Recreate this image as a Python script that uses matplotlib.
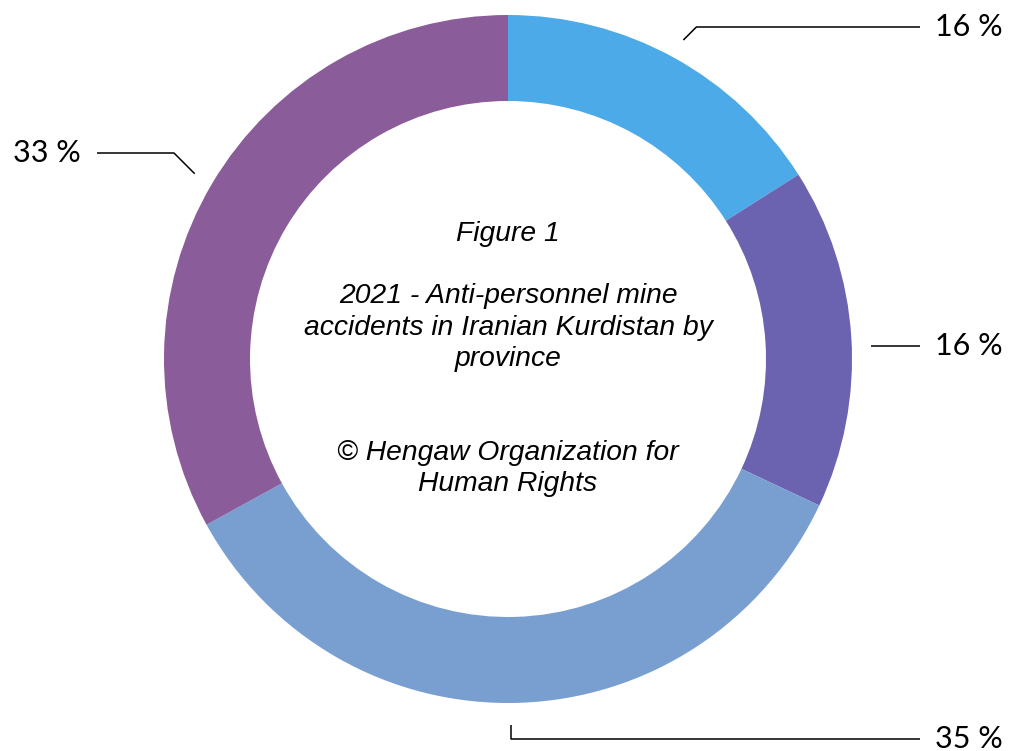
import numpy as np
import matplotlib
matplotlib.use("Agg")
from matplotlib import pyplot as plt

# share of mine accidents per province (clockwise from top)
shares = [16, 16, 35, 33]
labels = ["16 %", "16 %", "35 %", "33 %"]
colors = ["#4DAAE8", "#6B62B0", "#789FD0", "#8A5C99"]

center_text = ("Figure 1\n\n2021 - Anti-personnel mine\n"
               "accidents in Iranian Kurdistan by\nprovince\n\n\n"
               "© Hengaw Organization for\nHuman Rights")

W, H = 1011, 751
fig = plt.figure(figsize=(W / 100, H / 100), dpi=100)
ax = fig.add_axes([0, 0, 1, 1])

cx, cy, r = 508, H - 359, 344
wedges, _ = ax.pie(shares, colors=colors, startangle=90, counterclock=False,
                   radius=r, center=(cx, cy), frame=True,
                   wedgeprops=dict(width=r * 0.25, linewidth=0))
ax.set_xlim(0, W)
ax.set_ylim(0, H)
ax.set_aspect("equal")
ax.axis("off")

# label rows: y in pixels from top, leader style
label_rows = [(27, "diag"), (346, "flat"), (739, "drop"), (153, "left")]

for w, lab, (ly, kind) in zip(wedges, labels, label_rows):
    mid = np.deg2rad((w.theta1 + w.theta2) / 2)
    ax_x = cx + (r + 20) * np.cos(mid)
    ax_y = cy + (r + 20) * np.sin(mid)
    ly = H - ly
    if kind == "drop":
        xs = [ax_x - 8, ax_x - 8, 920]
        ys = [ax_y - 2, ly, ly]
    elif kind == "diag":
        d = abs(ax_y - ly)
        xs = [ax_x, ax_x + d, 920]
        ys = [ax_y, ly, ly]
    elif kind == "flat":
        xs = [ax_x, 920]
        ys = [ly, ly]
    else:
        d = abs(ax_y - ly)
        xs = [ax_x, ax_x - d, 97]
        ys = [ax_y, ly, ly]
    ax.plot(xs, ys, color="black", lw=1.1, solid_capstyle="butt")
    if kind == "left":
        ax.text(81, ly, lab, ha="right", va="center", fontsize=22,
                family="Lato", color="black")
    else:
        ax.text(935, ly, lab, ha="left", va="center", fontsize=22,
                family="Lato", color="black")

ax.text(cx, cy, center_text, ha="center", va="center", fontsize=20.3,
        style="italic", family="Liberation Sans", linespacing=1.265,
        color="black")

fig.savefig("out.png", dpi=100, facecolor="white")
